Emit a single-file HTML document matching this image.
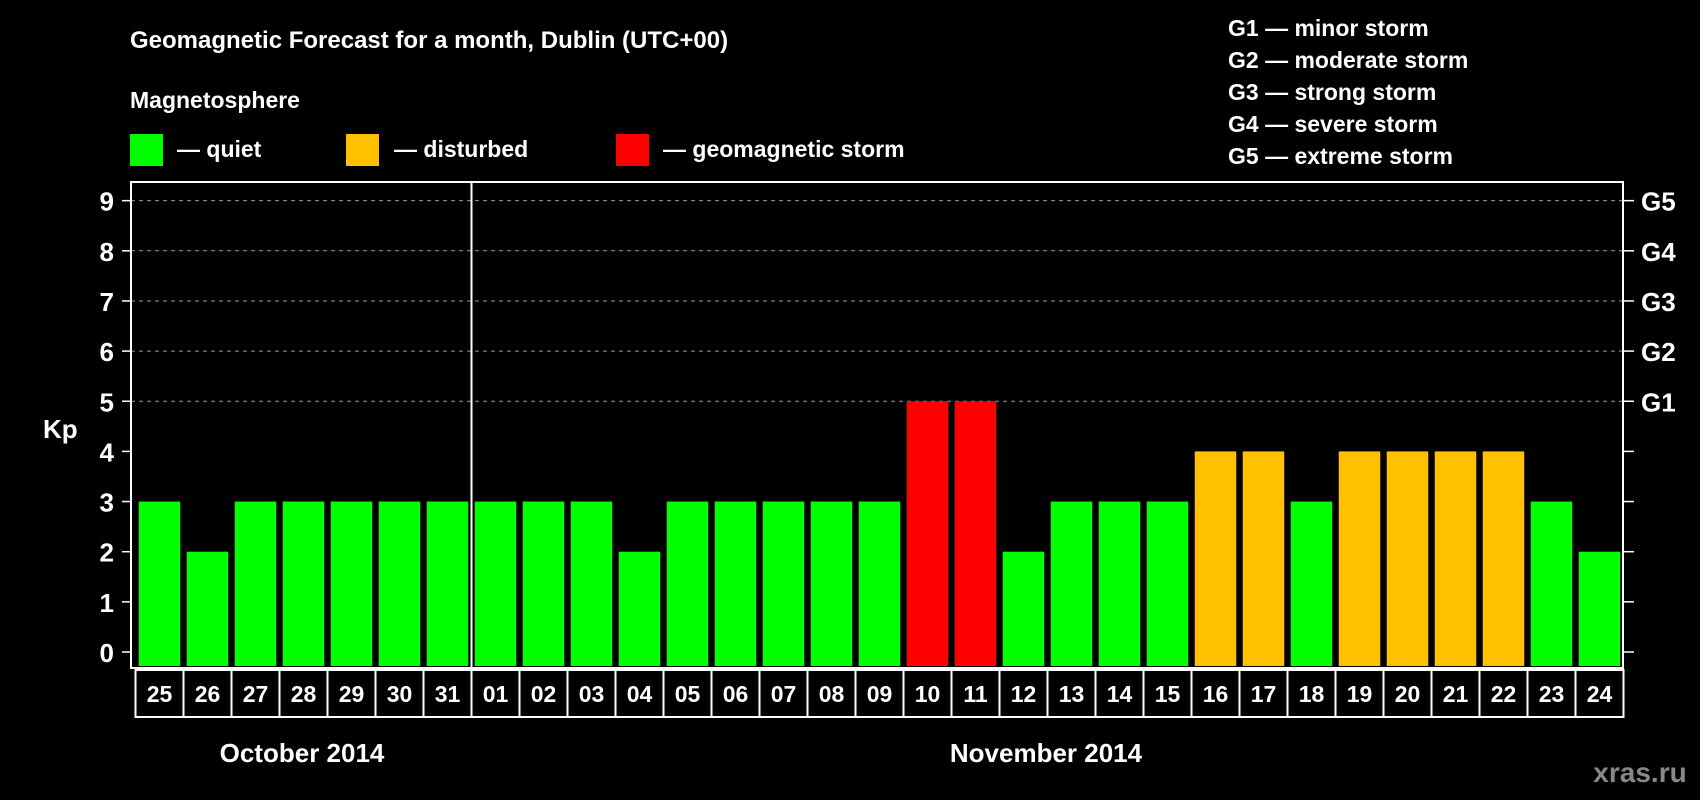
<!DOCTYPE html>
<html><head><meta charset="utf-8"><style>
body{margin:0;background:#000;width:1700px;height:800px;overflow:hidden}
svg{display:block;font-family:"Liberation Sans",Arial,sans-serif;font-weight:bold}
</style></head><body>
<svg id="c" width="1700" height="800">
<text x="130" y="48" fill="#fff" font-size="24">Geomagnetic Forecast for a month, Dublin (UTC+00)</text>
<text x="130" y="108" fill="#fff" font-size="23">Magnetosphere</text>
<rect x="130" y="134" width="33" height="32" fill="#00ff00"/>
<text x="177" y="157" fill="#fff" font-size="23">— quiet</text>
<rect x="346" y="134" width="33" height="32" fill="#ffc000"/>
<text x="394" y="157" fill="#fff" font-size="23">— disturbed</text>
<rect x="616" y="134" width="33" height="32" fill="#ff0000"/>
<text x="663" y="157" fill="#fff" font-size="23">— geomagnetic storm</text>
<g fill="#fff" font-size="23">
<text x="1228" y="36">G1 — minor storm</text>
<text x="1228" y="68">G2 — moderate storm</text>
<text x="1228" y="100">G3 — strong storm</text>
<text x="1228" y="132">G4 — severe storm</text>
<text x="1228" y="164">G5 — extreme storm</text>
</g>
<text x="43" y="438" fill="#fff" font-size="26">Kp</text>
<text x="302" y="762" fill="#fff" font-size="26" text-anchor="middle">October 2014</text>
<text x="1046" y="762" fill="#fff" font-size="26" text-anchor="middle">November 2014</text>
<text x="1640" y="782" fill="#888" font-size="28" text-anchor="middle">xras.ru</text>
<g id="plot"></g>
</svg>
<script>
const days=["25","26","27","28","29","30","31","01","02","03","04","05","06","07","08","09","10","11","12","13","14","15","16","17","18","19","20","21","22","23","24"];
const kp=[3,2,3,3,3,3,3,3,3,3,2,3,3,3,3,3,5,5,2,3,3,3,4,4,3,4,4,4,4,3,2];
const yTicks=[0,1,2,3,4,5,6,7,8,9];
const gLabels=["G1","G2","G3","G4","G5"];
const gLevels=[5,6,7,8,9];
const NS="http://www.w3.org/2000/svg";
const g=document.getElementById('plot');
const L=131,R=1623,T=182,B=668,y0=652,unit=50.15,x0=135.5,pitch=48.0;
const y=v=>y0-v*unit;
const xc=i=>x0+pitch*(i+0.5);
function mk(t,a){const e=document.createElementNS(NS,t);for(const k in a)e.setAttribute(k,a[k]);g.appendChild(e);return e;}
yTicks.forEach(v=>{
 if(v>=5){const l=mk('line',{x1:L,x2:R,y1:y(v),y2:y(v),stroke:'#999','stroke-dasharray':'4 4','stroke-width':1});
 
 }
 const t=mk('line',{x1:L-9,x2:L,y1:y(v),y2:y(v),stroke:'#fff','stroke-width':1.5});
 
 
 const t2=mk('line',{x1:R,x2:R+11,y1:y(v),y2:y(v),stroke:'#fff','stroke-width':1.5});
 
 
 const tx=mk('text',{x:114,y:y(v)+10,fill:'#fff','font-size':26,'text-anchor':'end'});tx.textContent=v;
 
 
});
gLabels.forEach((s,i)=>{const tx=mk('text',{x:1641,y:y(gLevels[i])+10,fill:'#fff','font-size':26});tx.textContent=s;
 
 });
kp.forEach((v,i)=>{
 const c=v>=5?'#ff0000':v>=4?'#ffc000':'#00ff00';
 const r=mk('rect',{x:xc(i)-20.75,y:y(v),width:41.5,height:y(0)-y(v)+14,fill:c});
 
 
 const cell=mk('rect',{x:x0+pitch*i,y:670,width:pitch,height:47,fill:'none',stroke:'#fff','stroke-width':2});
 
 
 const tx=mk('text',{x:xc(i),y:702,fill:'#fff','font-size':23,'text-anchor':'middle'});tx.textContent=days[i];
 
 
});
const box=mk('rect',{x:L,y:T,width:R-L,height:B-T,fill:'none',stroke:'#fff','stroke-width':2});


const dv=mk('line',{x1:x0+pitch*7,x2:x0+pitch*7,y1:T,y2:717,stroke:'#fff','stroke-width':2});


</script>
</body></html>
